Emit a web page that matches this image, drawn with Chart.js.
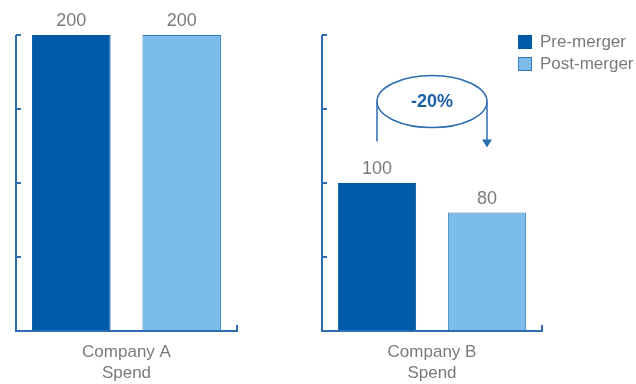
<!DOCTYPE html>
<html>
<head>
<meta charset="utf-8">
<script src="https://cdn.jsdelivr.net/npm/chart.js@4/dist/chart.umd.min.js"></script>
<style>
  html, body { margin: 0; padding: 0; background: #ffffff; }
  #wrap { position: relative; width: 636px; height: 384px; overflow: hidden; }
  canvas { position: absolute; top: 0; }
  #cA { left: 0; }
  #cB { left: 318px; }
</style>
</head>
<body>
<div id="wrap">
  <canvas id="cA" width="318" height="384"></canvas>
  <canvas id="cB" width="318" height="384"></canvas>
</div>
<script>
// ---- data ----
const categoriesA = [["Company A", "Spend"]];
const categoriesB = [["Company B", "Spend"]];
const seriesNames = ["Pre-merger", "Post-merger"];
const preMerger = [200, 100];
const postMerger = [200, 80];
const yTicks = [0, 50, 100, 150, 200];
const changeLabel = "-20%";

// ---- styles ----
const FONT = "'Liberation Sans', Arial, Helvetica, sans-serif";
const DARK = "#005BA9";
const LIGHT = "#7CBCE8";
const LIGHT_BORDER = "#2F7BC3";
const AXIS = "#2C6DB3";
const TEXT = "#7a7a7a";

const axisPlugin = {
  id: "axisPlugin",
  afterDraw(chart) {
    const ctx = chart.ctx, a = chart.chartArea, y = chart.scales.y;
    ctx.save();
    ctx.strokeStyle = AXIS;
    ctx.lineWidth = 2;
    ctx.beginPath();
    ctx.moveTo(a.left, a.top);
    ctx.lineTo(a.left, a.bottom);
    ctx.lineTo(a.right, a.bottom);
    ctx.lineTo(a.right, a.bottom - 6);
    yTicks.forEach(v => {
      const py = y.getPixelForValue(v);
      ctx.moveTo(a.left, py);
      ctx.lineTo(a.left + 5, py);
    });
    ctx.stroke();
    ctx.restore();
  }
};

const valueLabels = {
  id: "valueLabels",
  afterDatasetsDraw(chart) {
    const ctx = chart.ctx;
    ctx.save();
    ctx.fillStyle = TEXT;
    ctx.font = "18px " + FONT;
    ctx.textAlign = "center";
    ctx.textBaseline = "bottom";
    chart.data.datasets.forEach((ds, i) => {
      chart.getDatasetMeta(i).data.forEach((bar, j) => {
        ctx.fillText(String(ds.data[j]), bar.x, bar.y - 5);
      });
    });
    ctx.restore();
  }
};

const legendPlugin = {
  id: "legendPlugin",
  afterDraw(chart) {
    const ctx = chart.ctx;
    const x0 = chart.width - 118, y0 = 35;
    ctx.save();
    ctx.font = "17px " + FONT;
    ctx.textBaseline = "middle";
    ctx.textAlign = "left";
    chart.data.datasets.forEach((ds, i) => {
      const yy = y0 + i * 22;
      ctx.fillStyle = ds.backgroundColor;
      ctx.fillRect(x0, yy, 14, 14);
      ctx.strokeStyle = ds.borderColor;
      ctx.lineWidth = 1;
      ctx.strokeRect(x0 + 0.5, yy + 0.5, 13, 13);
      ctx.fillStyle = TEXT;
      ctx.fillText(ds.label, x0 + 22, yy + 7);
    });
    ctx.restore();
  }
};

const changePlugin = {
  id: "changePlugin",
  afterDraw(chart) {
    const ctx = chart.ctx, y = chart.scales.y;
    const b0 = chart.getDatasetMeta(0).data[0];
    const b1 = chart.getDatasetMeta(1).data[0];
    const cx = (b0.x + b1.x) / 2;
    const rx = (b1.x - b0.x) / 2;
    const cy = y.getPixelForValue(155);
    const ry = 26;
    const yEndL = y.getPixelForValue(128);
    const yTip = y.getPixelForValue(124);
    ctx.save();
    ctx.strokeStyle = AXIS;
    ctx.fillStyle = AXIS;
    ctx.lineWidth = 1.5;
    ctx.beginPath();
    ctx.ellipse(cx, cy, rx, ry, 0, 0, Math.PI * 2);
    ctx.stroke();
    ctx.beginPath();
    ctx.moveTo(b0.x, cy);
    ctx.lineTo(b0.x, yEndL);
    ctx.moveTo(b1.x, cy);
    ctx.lineTo(b1.x, yTip - 7);
    ctx.stroke();
    ctx.beginPath();
    ctx.moveTo(b1.x - 5, yTip - 8);
    ctx.lineTo(b1.x + 5, yTip - 8);
    ctx.lineTo(b1.x, yTip);
    ctx.closePath();
    ctx.fill();
    ctx.fillStyle = "#1C5FA9";
    ctx.font = "bold 18px " + FONT;
    ctx.textAlign = "center";
    ctx.textBaseline = "middle";
    ctx.fillText(changeLabel, cx, cy);
    ctx.restore();
  }
};

function makeChart(id, labels, idx, padLeft, padRight, extraPlugins) {
  return new Chart(document.getElementById(id), {
    type: "bar",
    data: {
      labels: labels,
      datasets: [
        { label: seriesNames[0], data: [preMerger[idx]], backgroundColor: DARK, borderColor: "#0056A3", borderWidth: 1 },
        { label: seriesNames[1], data: [postMerger[idx]], backgroundColor: LIGHT, borderColor: LIGHT_BORDER, borderWidth: 1 }
      ]
    },
    options: {
      responsive: false,
      animation: false,
      devicePixelRatio: 1,
      layout: { padding: { left: padLeft, right: padRight, top: 35, bottom: 0 } },
      categoryPercentage: 1.0,
      barPercentage: 0.712,
      plugins: { legend: { display: false }, tooltip: { enabled: false } },
      scales: {
        y: { display: false, min: 0, max: 200 },
        x: {
          grid: { display: false, drawTicks: false },
          border: { display: false },
          afterFit: (s) => { s.height = 53; },
          ticks: { color: TEXT, font: { family: FONT, size: 17, lineHeight: 1.24 }, padding: 11 }
        }
      }
    },
    plugins: [axisPlugin, valueLabels].concat(extraPlugins)
  });
}

makeChart("cA", categoriesA, 0, 16, 81, []);
makeChart("cB", categoriesB, 1, 4, 94, [legendPlugin, changePlugin]);
</script>
</body>
</html>
